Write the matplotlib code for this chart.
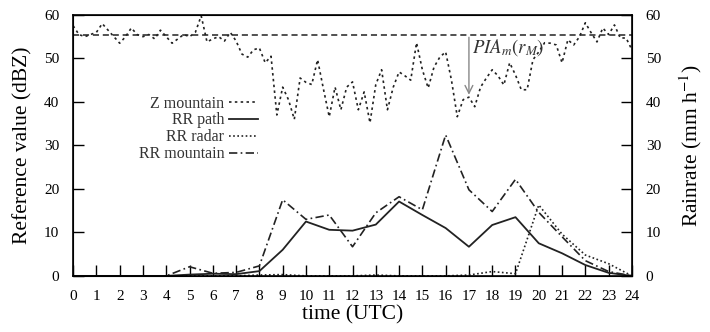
import numpy as np
import matplotlib
matplotlib.use("Agg")
import matplotlib.pyplot as plt

plt.rcParams['font.family'] = ['Liberation Serif', 'DejaVu Serif']
plt.rcParams['mathtext.fontset'] = 'stix'

# hourly rain rates (mm/h)
hours = list(range(0, 25))
rr_path = [0, 0, 0, 0, 0, 0.3, 0.5, 0.4, 1.1, 6, 12.5, 10.6, 10.4, 11.8, 17.1,
           14, 11, 6.7, 11.7, 13.5, 7.5, 5.2, 2.5, 0.7, 0]
rr_radar = [0, 0, 0, 0, 0, 0, 0, 0, 0.2, 0.3, 0, 0, 0, 0.2, 0,
            0, 0, 0.2, 1, 0.5, 16.3, 9.6, 4.8, 2.8, 0]
rr_mountain = [0, 0, 0, 0, 0, 2.1, 0.6, 0.8, 2.3, 17.5, 13, 14, 6.7, 14.5, 18.2,
               15.2, 32.4, 19.8, 14.8, 22.2, 14.6, 9, 3.5, 1, 0]

# Z at the mountain, quarter-hourly (dBZ)
z_time = [i * 0.25 for i in range(97)]
z_mountain = [57.5, 55.5, 55, 55.5, 56, 58, 56.5, 55, 53.5, 55, 57, 55.5,
              55, 55.5, 54.5, 56.5, 55, 53.5, 54.5, 55.5, 55, 56, 59.8, 53.8,
              54.5, 55, 54, 56, 54, 51, 50.3, 52, 52.4, 49, 50.5, 37,
              43.4, 40.5, 36, 45.5, 44.5, 44, 49.7, 43, 36.6, 43.4, 38.2, 43.4,
              44.6, 38.2, 42.3, 35.2, 44, 47.4, 38.2, 43.4, 46.9, 46, 45, 53.6,
              47.4, 43.2, 48, 50.3, 51.5, 45, 36.6, 40.5, 41.1, 38.9, 43.4, 45.5,
              47.4, 46, 43.9, 49, 46.2, 42.8, 42.8, 49.7, 51.5, 53.6, 53.5, 53.1,
              49, 54.3, 53.1, 55, 58.2, 55.9, 53.8, 57, 55.5, 57.7, 54.7, 54.7,
              52]
z_ref = 55.5
pia_hour = 17
pia_bottom = 41

fig = plt.figure(figsize=(7.1, 3.32), dpi=100)
ax = fig.add_axes([0.103, 0.169, 0.787, 0.786])

ax.axhline(z_ref, color='#222222', lw=1.1, ls=(0, (4, 2.5)))
ax.plot(z_time, z_mountain, color='#222222', lw=1.2, ls=(0, (1.5, 2)),
        label='Z mountain')
ax.plot(hours, rr_path, color='#222222', lw=1.3, ls='-', label='RR path')
ax.plot(hours, rr_radar, color='#222222', lw=1.2, ls=(0, (1, 1.5)),
        label='RR radar')
ax.plot(hours, rr_mountain, color='#222222', lw=1.2, ls=(0, (5, 2, 1, 2)),
        label='RR mountain')

ax.annotate('', xy=(pia_hour, pia_bottom), xytext=(pia_hour, z_ref),
            arrowprops=dict(arrowstyle='->', color='#888888', lw=1.0,
                            mutation_scale=14))
ax.text(pia_hour + 0.15, 55.0, r'$PIA_m(r_M)$', fontsize=13.5, va='top',
        ha='left', color='#333333')

ax.set_xlim(0, 24)
ax.set_ylim(0, 60)
ax.set_xticks(hours)
ax.set_yticks(range(0, 61, 10))
ax.tick_params(axis='x', direction='in', length=8, width=1, top=False,
               labelsize=11, pad=10)
ax.tick_params(axis='y', direction='in', length=8, width=1, labelsize=11,
               pad=10)
for s in ax.spines.values():
    s.set_linewidth(1.2)
ax.set_xlabel('time (UTC)', fontsize=15.5, labelpad=2)
ax.set_ylabel('Reference value (dBZ)', fontsize=15.5, labelpad=8)

ax2 = ax.twinx()
ax2.set_ylim(0, 60)
ax2.set_yticks(range(0, 61, 10))
ax2.tick_params(axis='y', direction='in', length=8, width=1, labelsize=11,
                pad=10)
ax2.set_ylabel('Rainrate (mm h$^{-1}$)', fontsize=15.5, labelpad=12)

leg = ax.legend(loc='upper right', bbox_to_anchor=(0.342, 0.715),
                frameon=False, markerfirst=False, fontsize=11.5,
                labelspacing=0.05, handlelength=1.8, handletextpad=0.3,
                borderaxespad=0)
for t in leg.get_texts():
    t.set_ha('right')
    t.set_color('#333333')

fig.savefig('out.png', dpi=100)
